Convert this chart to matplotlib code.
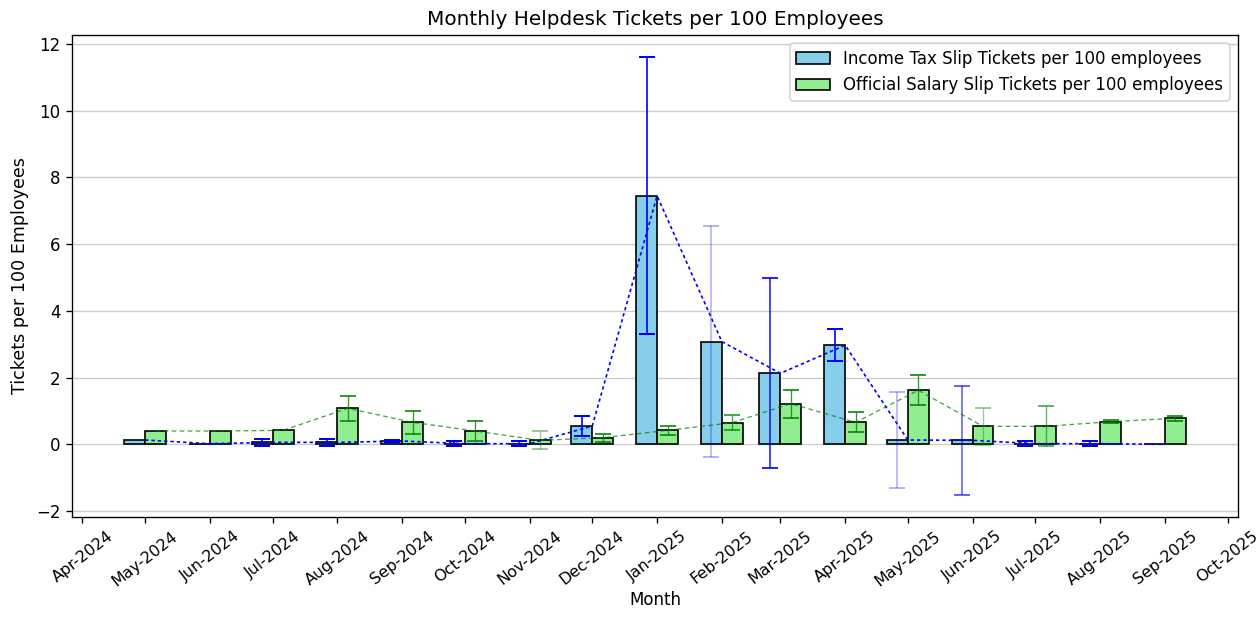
import matplotlib
matplotlib.use("Agg")
import matplotlib.pyplot as plt
import matplotlib.dates as mdates
import numpy as np
import pandas as pd

# Monthly ticket rates (per 100 employees) with their spread
months = pd.date_range("2024-05-01", "2025-09-01", freq="MS")

income_tax = [0.13, 0.02, 0.06, 0.06, 0.10, 0.02, 0.02, 0.55, 7.45, 3.08,
              2.13, 2.97, 0.13, 0.12, 0.02, 0.02, 0.00]
income_tax_err = [0.00, 0.00, 0.10, 0.10, 0.03, 0.07, 0.07, 0.30, 4.15, 3.47,
                  2.85, 0.48, 1.45, 1.63, 0.07, 0.07, 0.00]

salary_slip = [0.40, 0.40, 0.42, 1.08, 0.66, 0.40, 0.12, 0.20, 0.42, 0.65,
               1.22, 0.66, 1.62, 0.54, 0.54, 0.68, 0.78]
salary_slip_err = [0.00, 0.00, 0.00, 0.38, 0.34, 0.30, 0.27, 0.12, 0.13, 0.22,
                   0.42, 0.30, 0.45, 0.55, 0.60, 0.05, 0.08]

# Error-bar opacity per month (weaker estimates drawn fainter)
income_err_alpha = [1, 1, 1, 1, 1, 1, 1, 1, 1.0, 0.3, 0.85, 1.0, 0.3, 0.6, 1, 1, 1]
salary_err_alpha = [0.8, 0.8, 0.8, 0.8, 0.8, 0.8, 0.4, 0.8, 0.8, 0.7, 0.8, 0.8, 0.8, 0.4, 0.6, 0.8, 0.8]

fig = plt.figure(figsize=(1259 / 120, 620 / 120), dpi=120)
ax = fig.add_axes([0.0572, 0.166, 0.9261, 0.7775])

offset = pd.Timedelta(days=5)
bar_w = 10  # days

x_inc = months - offset
x_sal = months + offset

ax.bar(x_inc, income_tax, width=bar_w, color="skyblue", edgecolor="black",
       linewidth=1.0, label="Income Tax Slip Tickets per 100 employees", zorder=2)
ax.bar(x_sal, salary_slip, width=bar_w, color="lightgreen", edgecolor="black",
       linewidth=1.0, label="Official Salary Slip Tickets per 100 employees", zorder=2)

for xi, yi, ei, ai in zip(x_inc, income_tax, income_tax_err, income_err_alpha):
    if ei > 0:
        ax.errorbar(xi, yi, yerr=ei, fmt="none", ecolor="blue", elinewidth=1.0,
                    capsize=5, capthick=1.2, alpha=ai, zorder=3)
for xi, yi, ei, ai in zip(x_sal, salary_slip, salary_slip_err, salary_err_alpha):
    if ei > 0:
        ax.errorbar(xi, yi, yerr=ei, fmt="none", ecolor="green", elinewidth=0.8,
                    capsize=5, capthick=1.2, alpha=ai, zorder=3)

# Trend lines through each series
ax.plot(months, income_tax, color="blue", linestyle="--", dashes=(2, 1.8),
        linewidth=1.0, zorder=4)
ax.plot(x_sal, salary_slip, color="green", linestyle="--", dashes=(3.5, 2.5),
        linewidth=0.8, alpha=0.7, zorder=4)

ax.set_xlim(pd.Timestamp("2024-03-27"), pd.Timestamp("2025-10-06"))
ax.set_ylim(-2.18, 12.27)

ax.xaxis.set_major_locator(mdates.MonthLocator())
ax.xaxis.set_major_formatter(mdates.DateFormatter("%b-%Y"))
plt.setp(ax.get_xticklabels(), rotation=38, fontsize=9.5)

ax.yaxis.grid(True, color="#cccccc", linewidth=0.8)
ax.set_axisbelow(True)

ax.set_title("Monthly Helpdesk Tickets per 100 Employees")
ax.set_xlabel("Month", labelpad=1)
ax.set_ylabel("Tickets per 100 Employees", fontsize=10.5)
ax.legend(loc="upper right")

fig.savefig("out.png", dpi=120)
